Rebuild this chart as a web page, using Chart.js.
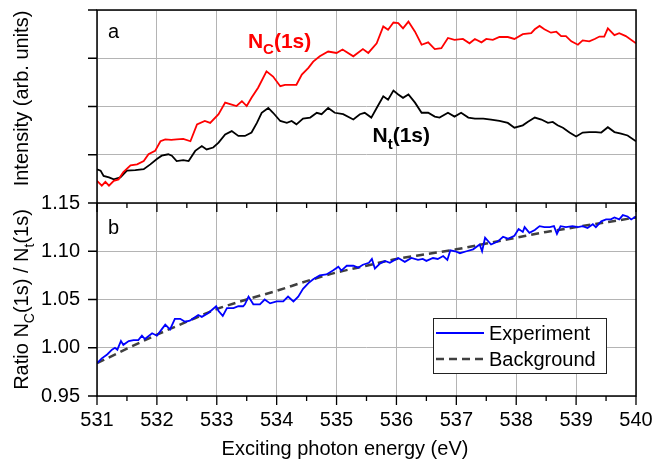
<!DOCTYPE html>
<html>
<head>
<meta charset="utf-8">
<script src="https://cdn.jsdelivr.net/npm/chart.js@4.4.1/dist/chart.umd.min.js"></script>
<style>
  html, body { margin: 0; padding: 0; background: #fff; }
</style>
</head>
<body>
<canvas id="chart" width="653" height="464"></canvas>
<script>
// Panel a: intensities (arb. units), [photon energy eV, intensity]
const ncData = [
  [531.00,0.46],[531.08,0.36],[531.14,0.44],[531.20,0.36],[531.28,0.46],[531.36,0.49],[531.44,0.64],[531.56,0.78],
  [531.67,0.80],[531.78,0.87],[531.86,1.01],[531.97,1.08],[532.06,1.28],[532.14,1.32],[532.24,1.31],[532.33,1.32],
  [532.44,1.33],[532.56,1.28],[532.67,1.63],[532.80,1.70],[532.89,1.66],[533.03,1.84],[533.14,2.08],[533.25,2.04],
  [533.33,2.01],[533.42,2.11],[533.50,2.01],[533.58,2.18],[533.69,2.39],[533.83,2.73],[533.94,2.62],[534.06,2.42],
  [534.14,2.45],[534.25,2.45],[534.33,2.45],[534.42,2.66],[534.53,2.80],[534.61,2.93],[534.72,3.04],[534.86,3.14],
  [535.00,3.11],[535.10,3.18],[535.28,3.04],[535.44,3.19],[535.53,3.11],[535.67,3.31],[535.78,3.66],[535.86,3.59],
  [535.95,3.74],[536.03,3.73],[536.11,3.62],[536.20,3.76],[536.31,3.55],[536.42,3.28],[536.53,3.33],[536.64,3.19],
  [536.75,3.21],[536.86,3.42],[536.97,3.38],[537.11,3.40],[537.22,3.31],[537.31,3.40],[537.42,3.33],[537.50,3.40],
  [537.61,3.38],[537.72,3.44],[537.86,3.44],[537.97,3.40],[538.11,3.50],[538.25,3.52],[538.31,3.60],[538.39,3.67],
  [538.47,3.60],[538.58,3.53],[538.67,3.55],[538.75,3.46],[538.83,3.46],[538.92,3.35],[539.03,3.28],[539.11,3.37],
  [539.22,3.35],[539.31,3.40],[539.39,3.45],[539.47,3.45],[539.53,3.62],[539.64,3.48],[539.72,3.52],[539.83,3.46],
  [540.00,3.31]
];
const ntData = [
  [531.00,0.70],[531.06,0.67],[531.11,0.56],[531.20,0.53],[531.28,0.49],[531.39,0.53],[531.50,0.67],[531.64,0.68],
  [531.78,0.70],[531.89,0.80],[532.00,0.91],[532.08,0.98],[532.19,1.01],[532.25,0.98],[532.33,0.87],[532.44,0.89],
  [532.53,0.87],[532.64,1.08],[532.75,1.18],[532.83,1.11],[532.94,1.15],[533.03,1.25],[533.14,1.42],[533.25,1.49],
  [533.36,1.39],[533.47,1.39],[533.58,1.46],[533.67,1.66],[533.75,1.87],[533.86,1.97],[533.94,1.87],[534.06,1.70],
  [534.17,1.66],[534.25,1.70],[534.33,1.63],[534.44,1.75],[534.56,1.77],[534.67,1.87],[534.75,1.84],[534.86,1.97],
  [534.97,1.87],[535.11,1.84],[535.28,1.73],[535.39,1.84],[535.47,1.87],[535.58,1.77],[535.67,1.97],[535.78,2.21],
  [535.86,2.14],[535.95,2.33],[536.03,2.25],[536.11,2.18],[536.20,2.25],[536.31,2.08],[536.42,1.87],[536.53,1.87],
  [536.64,1.79],[536.72,1.77],[536.86,1.87],[536.97,1.79],[537.08,1.87],[537.20,1.77],[537.31,1.75],[537.45,1.75],
  [537.58,1.73],[537.72,1.70],[537.86,1.66],[537.97,1.56],[538.11,1.61],[538.19,1.68],[538.31,1.77],[538.42,1.73],
  [538.53,1.66],[538.61,1.68],[538.69,1.61],[538.78,1.56],[538.89,1.46],[539.00,1.38],[539.11,1.46],[539.22,1.47],
  [539.33,1.47],[539.42,1.46],[539.53,1.57],[539.64,1.47],[539.75,1.44],[539.86,1.40],[540.00,1.28]
];

// Panel b: ratio Nc/Nt, experiment and fitted background
const ratioData = [
  [531.00,0.984],[531.08,0.989],[531.17,0.993],[531.25,0.998],[531.30,1.000],[531.34,0.998],[531.40,1.007],[531.44,1.003],
  [531.53,1.007],[531.61,1.008],[531.69,1.008],[531.75,1.0125],[531.80,1.009],[531.92,1.015],[532.00,1.0125],[532.08,1.019],
  [532.14,1.024],[532.22,1.019],[532.30,1.030],[532.39,1.030],[532.47,1.027],[532.55,1.028],[532.69,1.034],[532.75,1.032],
  [532.86,1.036],[532.99,1.043],[533.03,1.038],[533.10,1.033],[533.17,1.041],[533.28,1.041],[533.36,1.043],[533.44,1.043],
  [533.47,1.045],[533.53,1.053],[533.61,1.045],[533.72,1.045],[533.80,1.050],[533.89,1.046],[534.00,1.048],[534.11,1.048],
  [534.19,1.053],[534.28,1.048],[534.36,1.053],[534.44,1.061],[534.53,1.067],[534.61,1.071],[534.72,1.075],[534.83,1.076],
  [534.94,1.080],[535.03,1.084],[535.08,1.080],[535.17,1.085],[535.28,1.085],[535.36,1.083],[535.44,1.086],[535.54,1.088],
  [535.59,1.092],[535.64,1.082],[535.72,1.087],[535.81,1.090],[535.89,1.088],[536.03,1.093],[536.14,1.089],[536.25,1.093],
  [536.36,1.091],[536.44,1.092],[536.50,1.090],[536.61,1.093],[536.69,1.092],[536.78,1.095],[536.85,1.091],[536.90,1.101],
  [536.98,1.100],[537.06,1.098],[537.17,1.100],[537.28,1.102],[537.39,1.107],[537.43,1.100],[537.48,1.114],[537.58,1.107],
  [537.69,1.110],[537.78,1.115],[537.86,1.113],[537.97,1.116],[538.04,1.123],[538.11,1.120],[538.14,1.125],[538.22,1.119],
  [538.31,1.122],[538.39,1.126],[538.47,1.125],[538.56,1.125],[538.63,1.126],[538.68,1.118],[538.74,1.126],[538.83,1.125],
  [538.94,1.126],[539.03,1.125],[539.11,1.126],[539.19,1.124],[539.28,1.128],[539.33,1.125],[539.42,1.131],[539.50,1.133],
  [539.58,1.133],[539.64,1.135],[539.72,1.133],[539.78,1.1375],[539.86,1.136],[539.92,1.133],[540.00,1.136]
];
const backgroundData = [
  [531.0,0.984],[531.5,0.999],[532.0,1.0135],[532.5,1.027],[533.0,1.040],[533.5,1.050],[534.0,1.059],[534.5,1.069],
  [535.0,1.078],[535.5,1.085],[536.0,1.092],[536.5,1.097],[537.0,1.102],[537.5,1.108],[538.0,1.114],[538.5,1.120],
  [539.0,1.125],[539.5,1.130],[540.0,1.135]
];

const FONT = '"Liberation Sans", Arial, sans-serif';
const GRID = '#b4b4b4';
const toXY = arr => arr.map(p => ({ x: p[0], y: p[1] }));
const isWhole = v => Math.abs(v - Math.round(v)) < 1e-6;

// draw text with subscripts; parts = [[text, isSub], ...]
function richText(ctx, parts, x, y, size, weight, align) {
  const subSize = Math.round(size * 0.7);
  const widths = parts.map(p => {
    ctx.font = weight + ' ' + (p[1] ? subSize : size) + 'px ' + FONT;
    return ctx.measureText(p[0]).width;
  });
  const total = widths.reduce((s, w) => s + w, 0);
  let cx = align === 'center' ? x - total / 2 : x;
  ctx.textAlign = 'left';
  ctx.textBaseline = 'alphabetic';
  parts.forEach((p, i) => {
    ctx.font = weight + ' ' + (p[1] ? subSize : size) + 'px ' + FONT;
    ctx.fillText(p[0], cx, y + (p[1] ? size * 0.3 : 0));
    cx += widths[i];
  });
}

const framePlugin = {
  id: 'frame',
  afterDatasetsDraw(chart) {
    const { ctx, chartArea: a, scales } = chart;
    const x = scales.x, yTop = scales.yTop, yBot = scales.yBot;
    const mid = yBot.top;
    ctx.save();
    ctx.strokeStyle = '#000';
    ctx.lineWidth = 1.5;
    ctx.strokeRect(a.left, a.top, a.right - a.left, a.bottom - a.top);
    ctx.beginPath();
    ctx.moveTo(a.left, mid); ctx.lineTo(a.right, mid);
    ctx.stroke();

    ctx.lineWidth = 1.3;
    ctx.beginPath();
    x.ticks.forEach(t => {
      const px = x.getPixelForValue(t.value);
      const len = isWhole(t.value) ? 9 : 5;
      ctx.moveTo(px, a.bottom); ctx.lineTo(px, a.bottom + len);
      ctx.moveTo(px, mid); ctx.lineTo(px, mid + len);
    });
    yBot.ticks.forEach(t => {
      const py = yBot.getPixelForValue(t.value);
      ctx.moveTo(a.left - 9, py); ctx.lineTo(a.left, py);
    });
    yTop.ticks.forEach(t => {
      const py = yTop.getPixelForValue(t.value);
      ctx.moveTo(a.left - 9, py); ctx.lineTo(a.left, py);
    });
    ctx.stroke();

    ctx.fillStyle = '#000';
    // panel letters
    ctx.font = '20px ' + FONT;
    ctx.textAlign = 'left';
    ctx.textBaseline = 'alphabetic';
    ctx.fillText('a', a.left + 11, yTop.top + 28);
    ctx.fillText('b', a.left + 11, yBot.top + 31);

    // curve labels
    ctx.fillStyle = '#ff0000';
    richText(ctx, [['N', false], ['C', true], ['(1s)', false]], x.getPixelForValue(533.52), yTop.getPixelForValue(3.22), 21, 'bold', 'left');
    ctx.fillStyle = '#000';
    richText(ctx, [['N', false], ['t', true], ['(1s)', false]], x.getPixelForValue(535.6), yTop.getPixelForValue(1.26), 21, 'bold', 'left');

    // axis titles
    richText(ctx, [['Exciting photon energy (eV)', false]], 345, 455, 20, 'normal', 'center');
    ctx.save();
    ctx.translate(28, (yTop.top + yTop.bottom) / 2 - 8);
    ctx.rotate(-Math.PI / 2);
    richText(ctx, [['Intensity (arb. units)', false]], 0, 0, 20, 'normal', 'center');
    ctx.restore();
    ctx.save();
    ctx.translate(28, (yBot.top + yBot.bottom) / 2);
    ctx.rotate(-Math.PI / 2);
    richText(ctx, [['Ratio N', false], ['C', true], ['(1s) / N', false], ['t', true], ['(1s)', false]], 0, 0, 20, 'normal', 'center');
    ctx.restore();

    // legend box
    const lx = a.right - 203, ly = a.bottom - 78, lw = 173, lh = 55;
    ctx.fillStyle = '#fff';
    ctx.fillRect(lx, ly, lw, lh);
    ctx.lineWidth = 1;
    ctx.strokeStyle = '#222';
    ctx.strokeRect(lx + 0.5, ly + 0.5, lw, lh);
    chart.data.datasets.filter(d => d.yAxisID === 'yBot').forEach((d, i) => {
      const yy = ly + 15 + i * 26;
      ctx.strokeStyle = d.borderColor;
      ctx.lineWidth = d.borderWidth;
      ctx.setLineDash(d.borderDash || []);
      ctx.beginPath();
      ctx.moveTo(lx + 3, yy); ctx.lineTo(lx + 51, yy);
      ctx.stroke();
      ctx.setLineDash([]);
      ctx.fillStyle = '#000';
      ctx.font = '20px ' + FONT;
      ctx.textBaseline = 'middle';
      ctx.fillText(d.label, lx + 56, yy + 1);
    });
    ctx.restore();
  }
};

new Chart(document.getElementById('chart'), {
  type: 'line',
  data: {
    datasets: [
      { label: 'Nc(1s)', data: toXY(ncData), yAxisID: 'yTop', borderColor: '#ff0000', borderWidth: 1.8, pointRadius: 0, tension: 0 },
      { label: 'Nt(1s)', data: toXY(ntData), yAxisID: 'yTop', borderColor: '#000000', borderWidth: 1.8, pointRadius: 0, tension: 0 },
      { label: 'Experiment', data: toXY(ratioData), yAxisID: 'yBot', borderColor: '#0000ff', borderWidth: 1.8, pointRadius: 0, tension: 0 },
      { label: 'Background', data: toXY(backgroundData), yAxisID: 'yBot', borderColor: '#404040', borderWidth: 2.5, borderDash: [8, 5], pointRadius: 0, cubicInterpolationMode: 'monotone' }
    ]
  },
  options: {
    responsive: false,
    animation: false,
    layout: { padding: { left: 0, right: 17, top: 10, bottom: 0 } },
    plugins: { legend: { display: false }, tooltip: { enabled: false } },
    scales: {
      x: {
        type: 'linear',
        min: 531, max: 540,
        grid: { color: c => isWhole(c.tick.value) ? GRID : 'rgba(0,0,0,0)', drawTicks: false },
        border: { display: false },
        ticks: {
          stepSize: 0.5, padding: 12, color: '#000', font: { family: FONT, size: 20 },
          maxRotation: 0, autoSkip: false,
          callback: v => isWhole(v) ? String(Math.round(v)) : ''
        },
        afterFit: s => { s.height = 68; s.paddingLeft = 0; s.paddingRight = 0; }
      },
      // in a Chart.js vertical stack the first axis listed lands at the bottom
      yBot: {
        type: 'linear', position: 'left', stack: 'panels', stackWeight: 1,
        min: 0.95, max: 1.15,
        grid: { color: GRID, drawTicks: false },
        border: { display: false },
        ticks: { stepSize: 0.05, padding: 17, color: '#000', font: { family: FONT, size: 20 }, callback: v => v.toFixed(2) },
        afterFit: s => { s.width = 97; s.paddingTop = 0; s.paddingBottom = 0; }
      },
      yTop: {
        type: 'linear', position: 'left', stack: 'panels', stackWeight: 1,
        min: 0, max: 4,
        grid: { color: GRID, drawTicks: false },
        border: { display: false },
        ticks: { stepSize: 1, display: false },
        afterFit: s => { s.width = 97; s.paddingTop = 0; s.paddingBottom = 0; }
      }
    }
  },
  plugins: [framePlugin]
});
</script>
</body>
</html>
